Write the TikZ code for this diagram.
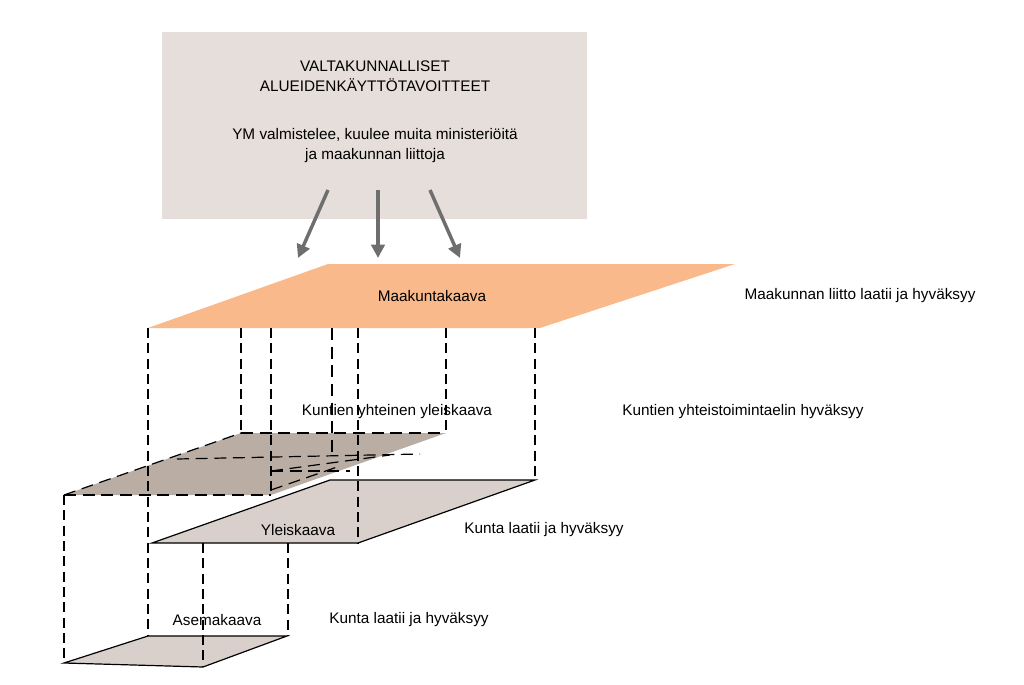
\documentclass[tikz,border=0pt]{standalone}
\usepackage{fontspec}
\setmainfont{Liberation Sans}
\usetikzlibrary{arrows.meta}
\definecolor{boxgray}{HTML}{E5DEDA}
\definecolor{orangeplane}{HTML}{F9B98A}
\definecolor{brownplane}{HTML}{B9ADA4}
\definecolor{lightplane}{HTML}{D9D0CB}
\definecolor{arrowgray}{HTML}{6E6E6E}
\begin{document}
\begin{tikzpicture}[x=0.75pt,y=-0.75pt,
  lbl/.style={font=\fontsize{11.5}{14}\selectfont,inner sep=0pt},
  vdash/.style={line width=1.6pt,dash pattern=on 7.5pt off 4pt},
  thindash/.style={line width=0.9pt,dash pattern=on 9pt off 5pt},
  planeedge/.style={line width=0.9pt},
  bigarrow/.style={arrowgray,line width=2.6pt,-{Triangle[length=10pt,width=10pt]}}]
\useasboundingbox (0,0) rectangle (1024,685);
% top box
\node[fill=boxgray,minimum width=425*0.75pt,minimum height=187*0.75pt,anchor=north west] (vat) at (162,32) {};
\node[lbl,align=center] (t1) at (375,76) {VALTAKUNNALLISET\\[1pt]ALUEIDENKÄYTTÖTAVOITTEET};
\node[lbl,align=center] (t2) at (375,146) {YM valmistelee, kuulee muita ministeriöitä\\[1pt]ja maakunnan liittoja};
\coordinate (a1s) at (328,190); \coordinate (a1e) at (298,258);
\coordinate (a2s) at (378,190); \coordinate (a2e) at (378,258);
\coordinate (a3s) at (430,190); \coordinate (a3e) at (460,258);
\draw[bigarrow] (a1s) -- (a1e);
\draw[bigarrow] (a2s) -- (a2e);
\draw[bigarrow] (a3s) -- (a3e);
% Maakuntakaava plane
\fill[orangeplane] (328,264) -- (735,264) -- (540,328) -- (148,328) -- cycle;
\node[lbl] (mk) at (432,296) {Maakuntakaava};
\node[lbl] (mkt) at (860,296) {Maakunnan liitto laatii ja hyväksyy};
% Kuntien plane
\fill[brownplane] (241,433) -- (446,433) -- (271,495) -- (64,495) -- cycle;
\draw[thindash] (241,433) -- (446,433);
\draw[thindash] (64,495) -- (271,495);
\draw[thindash] (64,495) -- (241,433);
\draw[thindash] (177,459) -- (420,454);
\draw[thindash] (271,471) -- (390,455);
\draw[thindash] (271,471) -- (350,471);
\draw[thindash] (271,490) -- (340,466);
% Yleiskaava plane
\fill[lightplane] (330,480) -- (535,480) -- (358,543) -- (152,543) -- cycle;
\draw[planeedge] (330,480) -- (535,480) -- (358,543) -- (152,543) -- cycle;
% Asemakaava plane
\fill[lightplane] (148,636) -- (287,636) -- (203,667) -- (64,663) -- cycle;
\draw[planeedge] (148,636) -- (287,636) -- (203,667) -- (64,663) -- cycle;
% vertical dashed lines
\draw[vdash] (148,328) -- (148,636);
\draw[vdash] (241,328) -- (241,433);
\draw[vdash] (271,328) -- (271,495);
\draw[thindash] (332,328) -- (332,454);
\draw[vdash] (358,328) -- (358,543);
\draw[vdash] (446,328) -- (446,433);
\draw[vdash] (535,328) -- (535,480);
\draw[vdash] (64,495) -- (64,663);
\draw[vdash] (203,543) -- (203,667);
\draw[vdash] (288,543) -- (288,636);
% labels
\node[lbl] (ky) at (397,412) {Kuntien yhteinen yleiskaava};
\node[lbl] (kyt) at (743,412) {Kuntien yhteistoimintaelin hyväksyy};
\node[lbl] (yk) at (298,530) {Yleiskaava};
\node[lbl] (ykt) at (544,530) {Kunta laatii ja hyväksyy};
\node[lbl] (ak) at (217,620) {Asemakaava};
\node[lbl] (akt) at (409,620) {Kunta laatii ja hyväksyy};
\end{tikzpicture}
\end{document}
